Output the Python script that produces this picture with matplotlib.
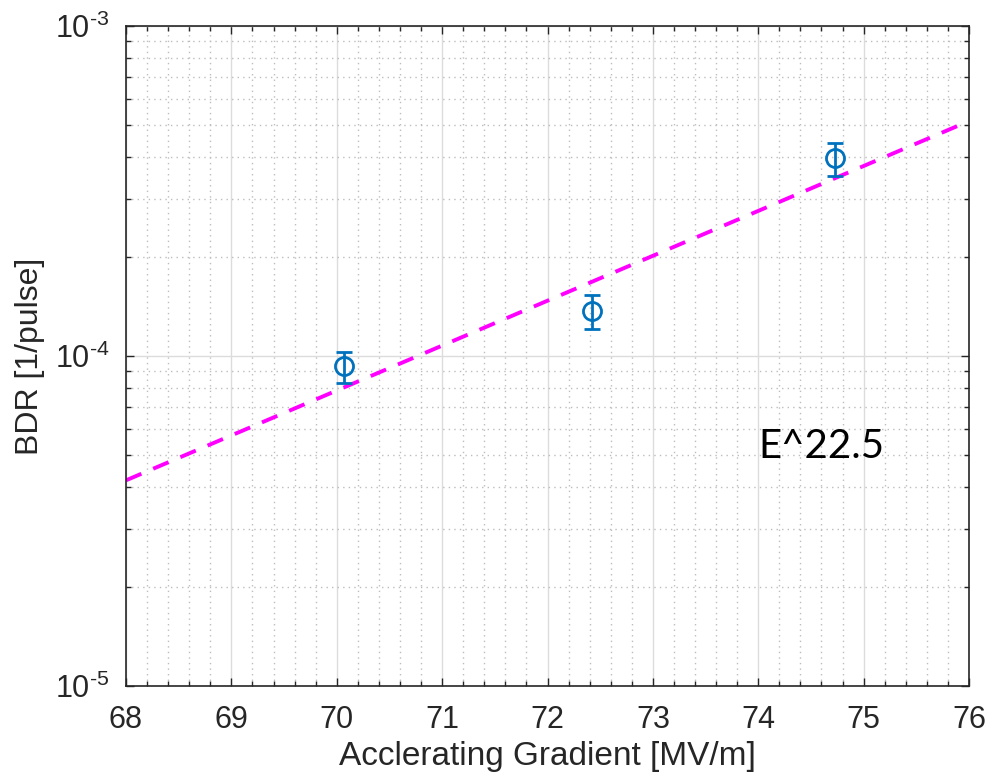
import numpy as np
import matplotlib.pyplot as plt
from matplotlib.ticker import MultipleLocator, LogLocator, NullFormatter, FuncFormatter

plt.rcParams['font.family'] = ['Liberation Sans', 'DejaVu Sans']
plt.rcParams['mathtext.fontset'] = 'custom'
plt.rcParams['mathtext.rm'] = 'Liberation Sans'
plt.rcParams['mathtext.it'] = 'Liberation Sans'

# measured breakdown rates
gradient = [70.07, 72.42, 74.73]
bdr = [9.3e-5, 1.37e-4, 3.97e-4]
bdr_err = [1.0e-5, 1.65e-5, 4.5e-5]

# power-law fit E^22.5 (end points)
fit_x = [68, 76]
fit_y = [4.2e-5, 5.15e-4]

blue = '#0072BD'
dark = '#262626'

fig = plt.figure(figsize=(9.9, 7.81), dpi=100)
ax = fig.add_axes([126/990, 1 - 686/781, (969-126)/990, (686-26)/781])

ax.plot(fit_x, fit_y, color='#FF00FF', lw=2.8, dashes=(4.3, 3.3))
ax.errorbar(gradient, bdr, yerr=bdr_err, fmt='o', color=blue, mfc='none',
            ms=13, mew=2, elinewidth=2, capsize=6, capthick=2)

ax.set_yscale('log')
ax.set_xlim(68, 76)
ax.set_ylim(1e-5, 1e-3)
ax.xaxis.set_major_locator(MultipleLocator(1))
ax.xaxis.set_minor_locator(MultipleLocator(0.2))
ax.yaxis.set_major_locator(LogLocator(base=10))
ax.yaxis.set_minor_locator(LogLocator(base=10, subs=range(2, 10)))
ax.yaxis.set_minor_formatter(NullFormatter())
ax.yaxis.set_major_formatter(FuncFormatter(
    lambda v, p: r'$10^{\text{-%d}}$' % round(-np.log10(v))))

ax.grid(which='major', color='#dcdcdc', lw=1, ls='-')
ax.grid(which='minor', color='#bdbdbd', lw=1, ls=(0, (1, 3)))
ax.set_axisbelow(True)

for s in ax.spines.values():
    s.set_color(dark)
    s.set_linewidth(1.2)
ax.tick_params(which='both', direction='in', top=True, right=True, colors=dark,
               labelsize=22, width=1)
ax.tick_params(which='major', length=6)
ax.tick_params(which='minor', length=3.5)
ax.tick_params(axis='x', pad=14)
ax.tick_params(axis='y', pad=12)

ax.set_xlabel('Acclerating Gradient [MV/m]', fontsize=24, color=dark, labelpad=4)
ax.set_ylabel('BDR [1/pulse]', fontsize=23, color=dark, labelpad=7)

ax.text(74.0, 4.9e-5, 'E^22.5', fontsize=29, family=['Lato', 'DejaVu Sans'],
        color='black', ha='left', va='baseline')

fig.savefig('out.png', dpi=100)
